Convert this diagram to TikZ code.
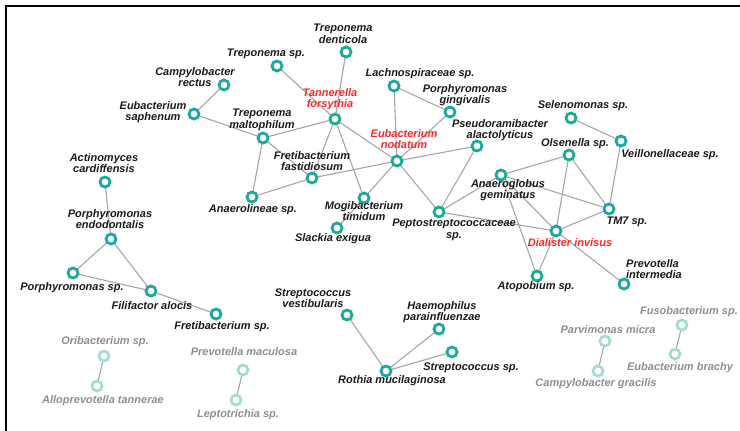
\documentclass[tikz,border=0pt]{standalone}
\usepackage{fontspec}
\setmainfont{Liberation Sans}
\usetikzlibrary{backgrounds}
\definecolor{ringteal}{HTML}{1CA89C}
\definecolor{ringpale}{HTML}{A6DBD5}
\definecolor{edgegrey}{HTML}{A6A6A6}
\definecolor{labred}{HTML}{F42828}
\definecolor{labgrey}{HTML}{8E8E8E}
\definecolor{labdark}{HTML}{1A1A1A}
\tikzset{
  taxon/.style={circle, draw=ringteal, fill=white, line width=2.8pt, minimum size=10pt, inner sep=0pt},
  faint/.style={taxon, draw=ringpale},
  lab/.style={inner sep=0pt, align=center, text=labdark,
    font=\fontsize{11}{11.5}\selectfont\bfseries\itshape},
  hub/.style={lab, text=labred},
  dim/.style={lab, text=labgrey},
  link/.style={draw=edgegrey, line width=1.1pt}
}
\begin{document}
\begin{tikzpicture}[x=1pt, y=-1pt]
\useasboundingbox (0,0) rectangle (740,431);
\draw[line width=1.6pt, black] (6,431) -- (6,6) -- (740,6);

% nodes of the main cluster
\node[taxon] (tden) at (346,52) {};
\node[taxon] (tsp) at (277,66) {};
\node[taxon] (crec) at (224,85) {};
\node[taxon] (esap) at (194,114) {};
\node[taxon] (tfor) at (335,119) {};
\node[taxon] (tmal) at (263,138) {};
\node[taxon] (ffas) at (312,178) {};
\node[taxon] (anae) at (252,197) {};
\node[taxon] (mtim) at (364,198) {};
\node[taxon] (slack) at (337,228) {};
\node[taxon] (lach) at (394,86) {};
\node[taxon] (pgin) at (450,112) {};
\node[taxon] (enod) at (397,161) {};
\node[taxon] (palc) at (477,146) {};
\node[taxon] (selen) at (571,118) {};
\node[taxon] (veil) at (621,141) {};
\node[taxon] (olsen) at (569,155) {};
\node[taxon] (agem) at (501,175) {};
\node[taxon] (tm7) at (609,209) {};
\node[taxon] (pept) at (439,212) {};
\node[taxon] (dinv) at (556,231) {};
\node[taxon] (atop) at (537,276) {};
\node[taxon] (pint) at (624,284) {};

% left cluster
\node[taxon] (acar) at (105,182) {};
\node[taxon] (pend) at (111,239) {};
\node[taxon] (psp) at (73,273) {};
\node[taxon] (falo) at (151,291) {};
\node[taxon] (fsp) at (216,314) {};

% Rothia cluster
\node[taxon] (svest) at (347,315) {};
\node[taxon] (haem) at (439,329) {};
\node[taxon] (strsp) at (452,352) {};
\node[taxon] (roth) at (386,371) {};

% faint pairs
\node[faint] (ori) at (104,356) {};
\node[faint] (allo) at (97,386) {};
\node[faint] (pmac) at (243,370) {};
\node[faint] (lept) at (236,400) {};
\node[faint] (parv) at (605,341) {};
\node[faint] (cgra) at (598,371) {};
\node[faint] (fuso) at (682,325) {};
\node[faint] (ebra) at (675,354) {};

% labels
\node[lab] (ltden) at (343,34) {Treponema\\denticola};
\node[lab] (ltsp) at (266,54) {Treponema sp.};
\node[lab] (lcrec) at (195,77) {Campylobacter\\rectus};
\node[lab] (lesap) at (153,112) {Eubacterium\\saphenum};
\node[hub] (ltfor) at (330,99) {Tannerella\\forsythia};
\node[lab] (ltmal) at (262,120) {Treponema\\maltophilum};
\node[lab] (lacar) at (104,163) {Actinomyces\\cardiffensis};
\node[lab] (lffas) at (312,161) {Fretibacterium\\fastidiosum};
\node[lab] (lanae) at (253,210) {Anaerolineae sp.};
\node[lab] (llach) at (420,74) {Lachnospiraceae sp.};
\node[lab] (lpgin) at (465,95) {Porphyromonas\\gingivalis};
\node[hub] (lenod) at (404,139) {Eubacterium\\nodatum};
\node[lab] (lpalc) at (500,130) {Pseudoramibacter\\alactolyticus};
\node[lab] (lselen) at (583,106) {Selenomonas sp.};
\node[lab] (lolsen) at (575,144) {Olsenella sp.};
\node[lab] (lveil) at (670,155) {Veillonellaceae sp.};
\node[lab] (lagem) at (508,190) {Anaeroglobus\\geminatus};
\node[lab] (lmtim) at (364,211) {Mogibacterium\\timidum};
\node[lab] (lslack) at (333,239) {Slackia exigua};
\node[lab] (lpept) at (454,230) {Peptostreptococcaceae\\sp.};
\node[lab] (ltm7) at (627,222) {TM7 sp.};
\node[hub] (ldinv) at (570,243) {Dialister invisus};
\node[lab] (latop) at (536,287) {Atopobium sp.};
\node[lab, align=left] (lpint) at (654,269) {Prevotella\\intermedia};
\node[lab] (lpend) at (110,219) {Porphyromonas\\endodontalis};
\node[lab] (lpsp) at (72,288) {Porphyromonas sp.};
\node[lab] (lfalo) at (152,306) {Filifactor alocis};
\node[lab] (lfsp) at (222,327) {Fretibacterium sp.};
\node[lab] (lsvest) at (313,298) {Streptococcus\\vestibularis};
\node[lab] (lhaem) at (442,312) {Haemophilus\\parainfluenzae};
\node[lab] (lstrsp) at (471,368) {Streptococcus sp.};
\node[lab] (lroth) at (392,381) {Rothia mucilaginosa};
\node[dim] (lori) at (105,342) {Oribacterium sp.};
\node[dim] (lallo) at (103,401) {Alloprevotella tannerae};
\node[dim] (lpmac) at (244,352) {Prevotella maculosa};
\node[dim] (llept) at (238,415) {Leptotrichia sp.};
\node[dim] (lparv) at (608,330) {Parvimonas micra};
\node[dim] (lcgra) at (596,384) {Campylobacter gracilis};
\node[dim] (lfuso) at (689,312) {Fusobacterium sp.};
\node[dim] (lebra) at (680,368) {Eubacterium brachy};

% connectors, kept beneath the rings
\begin{pgfonlayer}{background}
\foreach \a/\b in {tden/tfor, tsp/tfor, crec/esap, esap/tmal, tmal/tfor,
    tmal/ffas, tmal/anae, anae/ffas, ffas/tfor, tfor/mtim, tfor/enod,
    ffas/enod, enod/palc, mtim/enod, mtim/slack, enod/lach, enod/pgin,
    lach/pgin, enod/pept, palc/pept, pept/agem, pept/dinv, agem/olsen,
    agem/tm7, agem/dinv, agem/atop, olsen/dinv, olsen/tm7, selen/veil,
    veil/tm7, tm7/dinv, dinv/atop, dinv/pint,
    acar/pend, pend/psp, pend/falo, psp/falo, falo/fsp,
    svest/roth, haem/roth, strsp/roth,
    ori/allo, pmac/lept, parv/cgra, fuso/ebra}
  \draw[link] (\a.center) -- (\b.center);
\end{pgfonlayer}
\end{tikzpicture}
\end{document}
